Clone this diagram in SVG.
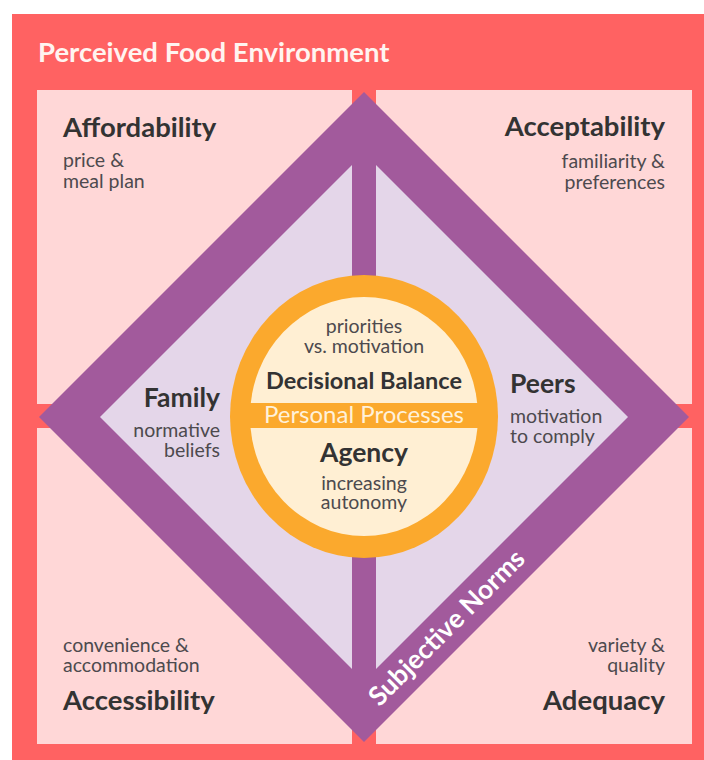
<svg xmlns="http://www.w3.org/2000/svg" width="704" height="760" viewBox="0 0 704 760">
  <style>
    .title { font-family: Lato, "Liberation Sans", sans-serif; font-weight: 700; font-size: 27.5px; fill: #FFF4F0; }
    .head { font-family: Lato, "Liberation Sans", sans-serif; font-weight: 700; font-size: 27.5px; fill: #333333; }
    .sub { font-family: Lato, "Liberation Sans", sans-serif; font-weight: 400; font-size: 19.5px; fill: #4d4a4e; }
    .mid { font-family: Lato, "Liberation Sans", sans-serif; font-weight: 700; font-size: 23.5px; fill: #333333; }
    .big { font-family: Lato, "Liberation Sans", sans-serif; font-weight: 700; font-size: 26.5px; fill: #333333; }
    .band { font-family: Lato, "Liberation Sans", sans-serif; font-weight: 400; font-size: 24px; fill: #FFF1DA; }
    .norms { font-family: Lato, "Liberation Sans", sans-serif; font-weight: 700; font-size: 26.5px; fill: #FFFFFF; }
    .r { text-anchor: end; }
    .c { text-anchor: middle; }
  </style>

  <!-- background frame -->
  <rect x="0" y="0" width="704" height="760" fill="#FFFFFF"/>
  <rect x="12" y="14" width="692" height="746" fill="#FF6262"/>

  <!-- quadrants of the food environment -->
  <g id="affordability">
    <rect x="37" y="90" width="315" height="314" fill="#FFD7D7"/>
    <text class="head" x="63" y="137">Affordability</text>
    <text class="sub" x="63" y="167">price &amp;</text>
    <text class="sub" x="63" y="188">meal plan</text>
  </g>
  <g id="acceptability">
    <rect x="376" y="90" width="316" height="314" fill="#FFD7D7"/>
    <text class="head r" x="665" y="136">Acceptability</text>
    <text class="sub r" x="665" y="168">familiarity &amp;</text>
    <text class="sub r" x="665" y="189">preferences</text>
  </g>
  <g id="accessibility">
    <rect x="37" y="428" width="315" height="316" fill="#FFD7D7"/>
    <text class="sub" x="63" y="652">convenience &amp;</text>
    <text class="sub" x="63" y="672">accommodation</text>
    <text class="head" x="63" y="710">Accessibility</text>
  </g>
  <g id="adequacy">
    <rect x="376" y="428" width="316" height="316" fill="#FFD7D7"/>
    <text class="sub r" x="665" y="652">variety &amp;</text>
    <text class="sub r" x="665" y="672">quality</text>
    <text class="head r" x="665" y="710">Adequacy</text>
  </g>

  <text class="title" x="38" y="62">Perceived Food Environment</text>

  <!-- subjective norms diamond -->
  <g id="subjective-norms">
    <polygon points="364,92 689,417 364,742 39,417" fill="#A25A9C"/>
    <polygon points="364,153 628,417 364,681 100,417" fill="#E4D6E9"/>
    <rect x="352" y="140" width="24" height="150" fill="#A25A9C"/>
    <rect x="352" y="540" width="24" height="150" fill="#A25A9C"/>
    <text class="norms c" transform="translate(453,634) rotate(-45)">Subjective Norms</text>
  </g>

  <g id="family">
    <text class="big r" x="220" y="407">Family</text>
    <text class="sub r" x="220" y="437">normative</text>
    <text class="sub r" x="220" y="457">beliefs</text>
  </g>
  <g id="peers">
    <text class="big" x="510" y="393">Peers</text>
    <text class="sub" x="510" y="423">motivation</text>
    <text class="sub" x="510" y="443">to comply</text>
  </g>

  <!-- personal processes core -->
  <g id="personal-processes">
    <ellipse cx="364" cy="416.5" rx="134" ry="141.5" fill="#FBA92D"/>
    <ellipse cx="364" cy="416.5" rx="114" ry="119.5" fill="#FFEFD3"/>
    <rect x="240" y="403" width="248" height="25" fill="#FBA92D"/>
    <text class="sub c" x="364" y="333">priorities</text>
    <text class="sub c" x="364" y="353">vs. motivation</text>
    <text class="mid c" x="364" y="389">Decisional Balance</text>
    <text class="band c" x="364" y="423">Personal Processes</text>
    <text class="big c" x="364" y="462">Agency</text>
    <text class="sub c" x="364" y="490">increasing</text>
    <text class="sub c" x="364" y="509">autonomy</text>
  </g>
</svg>
